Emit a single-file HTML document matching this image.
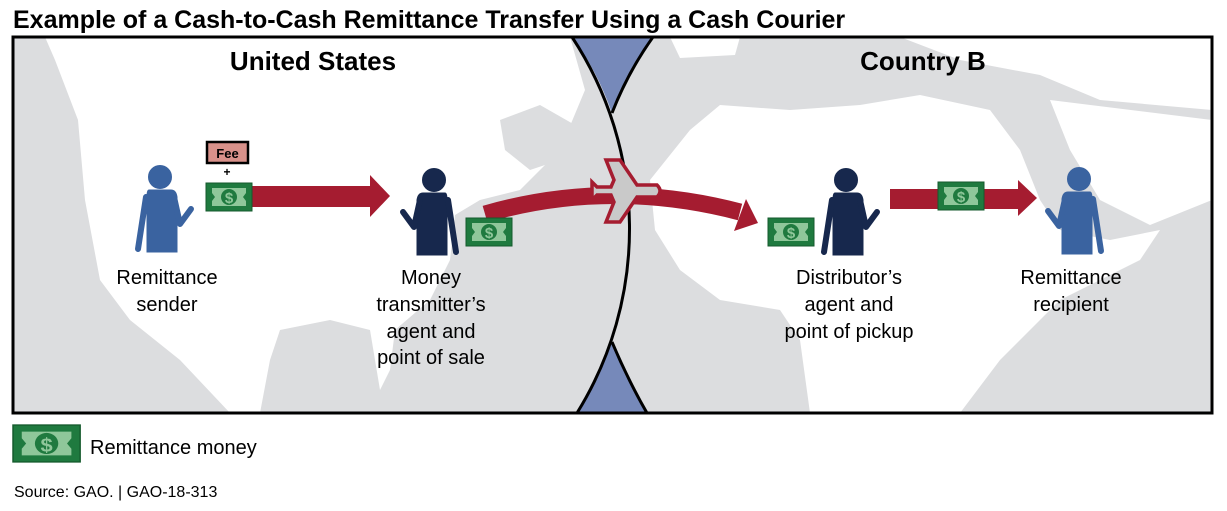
<!DOCTYPE html>
<html><head><meta charset="utf-8"><style>
html,body{margin:0;padding:0;background:#fff;}
body{width:1227px;height:506px;overflow:hidden;font-family:"Liberation Sans",Arial,sans-serif;}
</style></head><body>
<svg width="1227" height="506" viewBox="0 0 1227 506" xmlns="http://www.w3.org/2000/svg" font-family="Liberation Sans, Arial, sans-serif">
<defs>
<clipPath id="cl"><path d="M13,37 L572,37 A349,349 0 0 1 577,413 L13,413 Z"/></clipPath>
<clipPath id="cr"><path d="M572,37 A349,349 0 0 1 577,413 L1212,413 L1212,37 Z"/></clipPath>
<g id="bill">
<rect x="0" y="0" width="46" height="28" fill="#1f7a3f" stroke="#145a2c" stroke-width="1"/>
<path d="M6,5 L40,5 L40,10 L37,14 L40,18 L40,23 L6,23 L6,18 L9,14 L6,10 Z" fill="#8fc79a"/>
<circle cx="23" cy="14" r="8" fill="#1f7a3f"/>
<text x="23" y="20" font-size="15" font-weight="bold" fill="#8fc79a" text-anchor="middle">$</text>
</g>
<g id="person">
<circle cx="0" cy="0" r="11.5"/>
<path d="M-11,13 L11,13 Q16,13 17,20 L17,75 L-13,75 L-13,20 Q-13,13 -11,13 Z"/>
<path d="M-14,20 L-22,72" stroke-width="6" stroke-linecap="round" fill="none"/>
<path d="M14,20 L20,47 L31,32" stroke-width="6" stroke-linecap="round" stroke-linejoin="round" fill="none"/>
</g>
</defs>
<text x="13" y="28" font-size="25" font-weight="bold" fill="#000">Example of a Cash-to-Cash Remittance Transfer Using a Cash Courier</text>

<g clip-path="url(#cl)">
<rect x="13" y="37" width="680" height="376" fill="#dcdddf"/>
<polygon fill="#fff" points="45,37 570,37 585,90 560,150 520,190 480,200 455,215 450,260 430,300 395,330 390,370 380,390 370,330 330,320 280,330 270,360 260,413 230,413 180,360 130,320 100,280 85,200 78,120 55,60"/>
<polygon fill="#dcdddf" points="500,120 540,105 575,125 560,160 530,170 505,150"/>
</g>
<g clip-path="url(#cr)">
<rect x="570" y="37" width="650" height="376" fill="#dcdddf"/>
<polygon fill="#fff" points="690,130 720,105 790,110 860,105 920,95 990,110 1020,150 1040,200 1060,230 1110,240 1160,230 1140,260 1060,300 1000,360 960,413 810,413 800,340 780,310 720,300 680,270 655,230 650,180"/>
<polygon fill="#fff" points="900,37 1212,37 1212,110 1100,100 1040,75 960,60"/>
<polygon fill="#fff" points="1050,100 1212,120 1212,200 1150,225 1100,200 1070,150"/>
<polygon fill="#fff" points="670,37 740,37 735,55 680,58"/>
</g>
<!-- blue wedges -->
<path d="M572,37 L653,37 Q628,72 612,113 Q597,70 572,37 Z" fill="#7689ba"/>
<path d="M577,413 L647,413 Q628,380 612,342 Q597,382 577,413 Z" fill="#7689ba"/>
<path d="M572,37 A349,349 0 0 1 577,413" fill="none" stroke="#000" stroke-width="3"/>
<path d="M653,37 Q628,72 612,113" fill="none" stroke="#000" stroke-width="3"/>
<path d="M612,342 Q628,380 647,413" fill="none" stroke="#000" stroke-width="3"/>
<rect x="13" y="37" width="1199" height="376" fill="none" stroke="#000" stroke-width="3"/>

<text x="313" y="70" font-size="26" font-weight="bold" text-anchor="middle">United States</text>
<text x="923" y="70" font-size="26" font-weight="bold" text-anchor="middle">Country B</text>

<!-- arrow 1 -->
<rect x="250" y="186" width="124" height="21" fill="#a51c30"/>
<polygon points="370,175 390,196 370,217" fill="#a51c30"/>
<!-- fee -->
<rect x="207" y="142" width="41" height="21" fill="#d8918a" stroke="#000" stroke-width="2.5"/>
<text x="227.5" y="158" font-size="13" font-weight="bold" text-anchor="middle">Fee</text>
<text x="227" y="176" font-size="12" font-weight="bold" text-anchor="middle">+</text>
<use href="#bill" x="206" y="183"/>

<!-- curved arrow -->
<path d="M485,214 Q610,178 740,212" fill="none" stroke="#a51c30" stroke-width="17"/>
<polygon points="746,199 758,223 734,231" fill="#a51c30"/>
<!-- plane -->
<path d="M597,187 L611,187 L614,180 L606,160 L620,160 L637,185 L657,185 Q663,191 657,197 L637,197 L620,222 L606,222 L614,202 L611,195 L597,195 L592,200 L592,182 Z" fill="#c9c9c9" stroke="#a51c30" stroke-width="3.5" stroke-linejoin="miter"/>

<!-- arrow 3 -->
<rect x="890" y="189" width="132" height="20" fill="#a51c30"/>
<polygon points="1018,180 1037,198 1018,216" fill="#a51c30"/>
<use href="#bill" x="938" y="182"/>

<!-- people -->
<g transform="translate(160,177)" fill="#3a63a0" stroke="#3a63a0"><use href="#person"/></g>
<g transform="translate(434,180) scale(-1,1)" fill="#17284d" stroke="#17284d"><use href="#person"/></g>
<g transform="translate(846,180)" fill="#17284d" stroke="#17284d"><use href="#person"/></g>
<g transform="translate(1079,179) scale(-1,1)" fill="#3a63a0" stroke="#3a63a0"><use href="#person"/></g>

<use href="#bill" x="466" y="218"/>
<use href="#bill" x="768" y="218"/>

<g font-size="20" fill="#000" text-anchor="middle">
<text x="167" y="284">Remittance</text>
<text x="167" y="311">sender</text>
<text x="431" y="284">Money</text>
<text x="431" y="311">transmitter’s</text>
<text x="431" y="338">agent and</text>
<text x="431" y="364">point of sale</text>
<text x="849" y="284">Distributor’s</text>
<text x="849" y="311">agent and</text>
<text x="849" y="338">point of pickup</text>
<text x="1071" y="284">Remittance</text>
<text x="1071" y="311">recipient</text>
</g>

<!-- legend -->
<g transform="translate(13,425) scale(1.46,1.32)"><use href="#bill"/></g>
<text x="90" y="454" font-size="20">Remittance money</text>
<text x="14" y="497" font-size="16">Source: GAO.  |  GAO-18-313</text>
</svg>
</body></html>
